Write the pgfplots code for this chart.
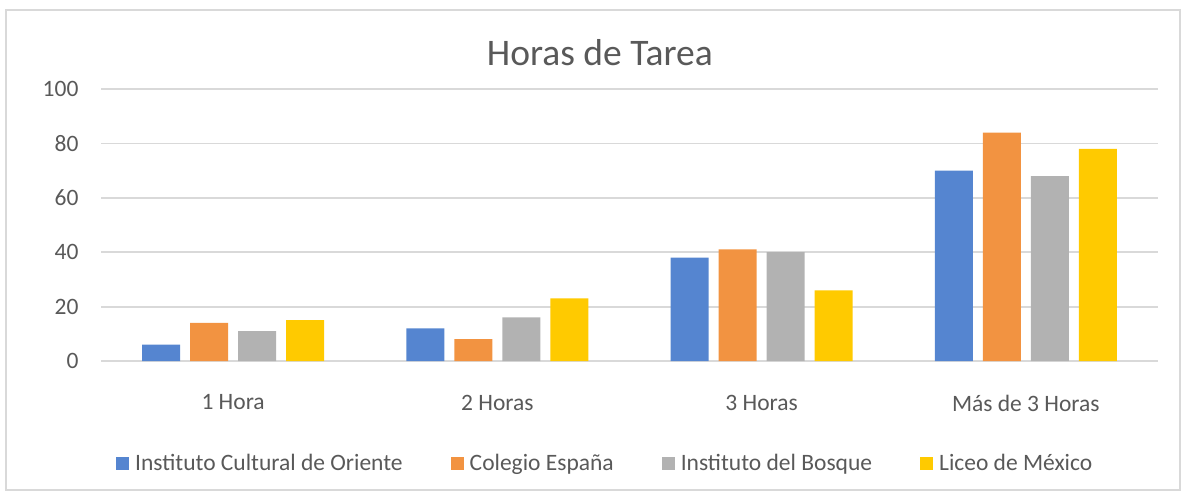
\documentclass[border=0pt]{standalone}
\usepackage{pgfplots}
\pgfplotsset{compat=1.18}
\usepackage{fontspec}
\setmainfont{Carlito}
\definecolor{cblue}{HTML}{5585D0}
\definecolor{corange}{HTML}{F29341}
\definecolor{cgray}{HTML}{B2B2B2}
\definecolor{cyellow}{HTML}{FFCA00}
\definecolor{ctext}{HTML}{595959}
\definecolor{cgrid}{HTML}{D9D9D9}
\begin{document}
\begin{tikzpicture}[x=1pt,y=1pt]
\useasboundingbox (0,0) rectangle (1186,496);
\draw[cgrid, line width=1.5pt] (6,6) rectangle (1180,486);
\begin{axis}[
  at={(101pt,135pt)}, anchor=south west,
  scale only axis, width=1057pt, height=272pt,
  ybar=10pt, bar width=38pt,
  xmin=-0.5, xmax=3.5, ymin=0, ymax=100,
  xtick=data, xticklabels={1 Hora,2 Horas,3 Horas,Más de 3 Horas},
  ytick={0,20,40,60,80,100},
  ymajorgrids, major grid style={draw=cgrid, line width=1.8pt},
  axis line style={draw=none}, major tick style={draw=none},
  /pgf/number format/assume math mode=true,
  ticklabel style={font=\fontsize{23.5}{28}\selectfont, text=ctext},
  yticklabel style={xshift=-19pt},
  xticklabel style={yshift=-26pt},
  title={Horas de Tarea},
  title style={at={(rel axis cs:0.472,1)}, anchor=center, yshift=30pt, font=\fontsize{37.5}{43}\selectfont, text=ctext},
  legend columns=4,
  legend style={at={(0.477,-0.375)}, anchor=center, draw=none, font=\fontsize{23.5}{28}\selectfont, text=ctext,
    /tikz/every even column/.append style={column sep=46pt}},
  legend image code/.code={\fill[#1] (0pt,-6.5pt) rectangle (13pt,6.5pt); \path (17pt,0pt);},
]
\addplot[fill=cblue, draw=none] coordinates {(0,6) (1,12) (2,38) (3,70)};
\addplot[fill=corange, draw=none] coordinates {(0,14) (1,8) (2,41) (3,84)};
\addplot[fill=cgray, draw=none] coordinates {(0,11) (1,16) (2,40) (3,68)};
\addplot[fill=cyellow, draw=none] coordinates {(0,15) (1,23) (2,26) (3,78)};
\legend{Instituto Cultural de Oriente,Colegio España,Instituto del Bosque,Liceo de México}
\end{axis}
\end{tikzpicture}
\end{document}
